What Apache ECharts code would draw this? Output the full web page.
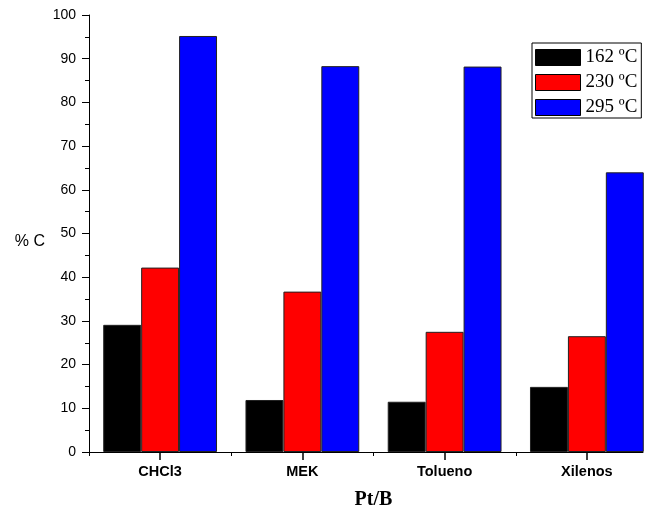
<!DOCTYPE html>
<html>
<head>
<meta charset="utf-8">
<script src="https://cdn.jsdelivr.net/npm/echarts@6/dist/echarts.min.js"></script>
<style>
  html, body { margin: 0; padding: 0; background: #fff; }
  #chart { width: 653px; height: 517px; }
</style>
</head>
<body>
<div id="chart"></div>
<script>
// Solvents (categories) and carbon yield at three temperatures
var categories = ['CHCl3', 'MEK', 'Tolueno', 'Xilenos'];
var seriesNames = ['162 ºC', '230 ºC', '295 ºC'];
var values162 = [29.1, 11.9, 11.5, 14.9];
var values230 = [42.2, 36.7, 27.5, 26.5];
var values295 = [95.2, 88.3, 88.2, 64.0];
var yTicks = { min: 0, max: 100, step: 10 };

var colors = ['#000000', '#ff0000', '#0000ff'];
var seriesValues = [values162, values230, values295];

var chart = echarts.init(document.getElementById('chart'), null, { renderer: 'canvas' });

var sans = 'Liberation Sans, Arial, sans-serif';
var serif = 'Liberation Serif, Times New Roman, serif';

// plot area geometry
var plotLeft = 89, plotTop = 15, plotHeight = 437;
var band = 142.25;                          // width of one category band
var plotWidth = band * categories.length;   // last band runs past the frame edge
var frameWidth = 554;                       // visible length of the bottom axis line

var series = seriesNames.map(function (name, i) {
  return {
    name: name,
    type: 'bar',
    xAxisIndex: 0,
    yAxisIndex: 0,
    data: seriesValues[i],
    barGap: '0%',
    barCategoryGap: '20%',
    itemStyle: { color: colors[i], borderColor: '#222', borderWidth: 1 }
  };
});

chart.setOption({
  animation: false,
  backgroundColor: '#fff',
  grid: [
    // bar area: four equal bands
    { left: plotLeft, top: plotTop, width: plotWidth, height: plotHeight, outerBoundsMode: 'none' },
    // frame: carries the visible bottom axis line
    { left: plotLeft, top: plotTop, width: frameWidth, height: plotHeight, outerBoundsMode: 'none' },
    // first to last band centre: carries the longer centre ticks
    { left: plotLeft + band / 2, top: plotTop, width: band * (categories.length - 1), height: plotHeight, outerBoundsMode: 'none' }
  ],
  legend: {
    data: seriesNames,
    orient: 'vertical',
    left: 532,
    top: 43,
    icon: 'rect',
    itemWidth: 45,
    itemHeight: 16,
    itemGap: 6,
    padding: [5, 4, 1, 3],
    borderColor: '#000',
    borderWidth: 1,
    backgroundColor: '#fff',
    itemStyle: { borderColor: '#000', borderWidth: 1 },
    textStyle: { fontFamily: serif, fontSize: 19, color: '#000' }
  },
  xAxis: [
    {
      // category labels
      type: 'category',
      gridIndex: 0,
      data: categories,
      position: 'bottom',
      axisLine: { show: false },
      axisTick: { show: false },
      axisLabel: { color: '#000', fontFamily: sans, fontSize: 14.5, fontWeight: 'bold', margin: 12 },
      splitLine: { show: false },
      name: 'Pt/B',
      nameLocation: 'middle',
      nameGap: 38,
      nameTextStyle: { fontFamily: serif, fontSize: 20, fontWeight: 'bold', color: '#000' }
    },
    {
      // short ticks on band edges
      type: 'value',
      gridIndex: 0,
      min: 0,
      max: categories.length,
      interval: 1,
      position: 'bottom',
      axisLine: { show: true, lineStyle: { color: 'rgba(0,0,0,0)', width: 1 } },
      axisTick: { show: true, length: 4, lineStyle: { color: '#000', width: 1 } },
      axisLabel: { show: false },
      splitLine: { show: false }
    },
    {
      // visible bottom axis line
      type: 'value',
      gridIndex: 1,
      min: 0,
      max: 1,
      position: 'bottom',
      axisLine: { show: true, lineStyle: { color: '#000', width: 1 } },
      axisTick: { show: false },
      axisLabel: { show: false },
      splitLine: { show: false }
    },
    {
      // longer ticks at band centres
      type: 'value',
      gridIndex: 2,
      min: 0,
      max: categories.length - 1,
      interval: 1,
      position: 'bottom',
      axisLine: { show: true, lineStyle: { color: 'rgba(0,0,0,0)', width: 1 } },
      axisTick: { show: true, length: 8, lineStyle: { color: '#000', width: 1.5 } },
      axisLabel: { show: false },
      splitLine: { show: false }
    }
  ],
  yAxis: [
    {
      type: 'value',
      gridIndex: 0,
      min: yTicks.min,
      max: yTicks.max,
      interval: yTicks.step,
      axisLine: { show: true, lineStyle: { color: '#000', width: 1 } },
      axisTick: { show: true, length: 7, lineStyle: { color: '#000', width: 1 } },
      minorTick: { show: true, splitNumber: 2, length: 4, lineStyle: { color: '#000', width: 1 } },
      axisLabel: { color: '#000', fontFamily: sans, fontSize: 14, margin: 13 },
      splitLine: { show: false },
      name: '% C',
      nameLocation: 'middle',
      nameRotate: 0,
      nameGap: 44,
      nameTextStyle: { fontFamily: sans, fontSize: 16, color: '#000', verticalAlign: 'top' }
    },
    { type: 'value', gridIndex: 1, show: false },
    { type: 'value', gridIndex: 2, show: false }
  ],
  series: series
});
</script>
</body>
</html>
